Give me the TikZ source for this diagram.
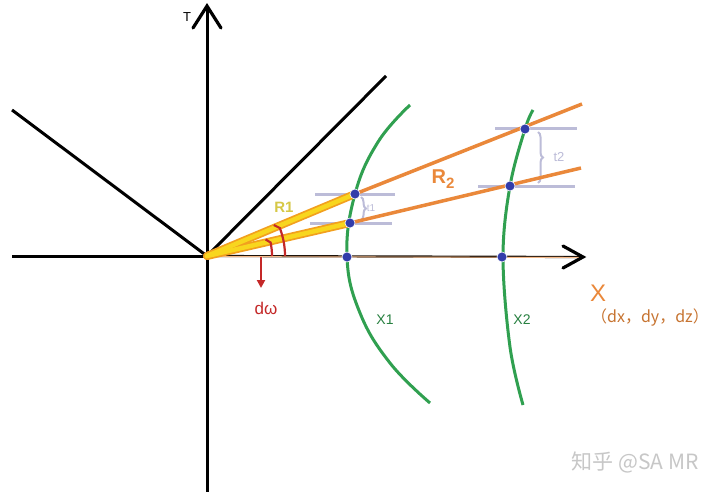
\documentclass[tikz,border=0pt]{standalone}
\usepackage{fontspec}
\setmainfont{Liberation Sans}
\newfontfamily\cjk{Noto Sans CJK SC}
\usetikzlibrary{decorations.pathreplacing,arrows.meta,calc}
\definecolor{gr}{RGB}{48,160,80}
\definecolor{orng}{RGB}{234,136,58}
\definecolor{yel}{RGB}{248,214,30}
\definecolor{yelo}{RGB}{242,160,30}
\definecolor{lav}{RGB}{188,188,216}
\definecolor{dotb}{RGB}{50,60,170}
\definecolor{redd}{RGB}{196,40,40}
\definecolor{r1c}{RGB}{214,200,70}
\tikzset{
  axis/.style={line width=3pt,black},
  chev/.style={line width=3.2pt,black,line cap=round,line join=miter},
  arcg/.style={line width=3pt,gr},
  orl/.style={line width=3.5pt,orng},
  yelout/.style={line width=8pt,yelo},
  yelin/.style={line width=4.5pt,yel},
  tick/.style={line width=3pt,lav},
  dotn/.style={circle,fill=dotb,draw=white,line width=0.6pt,inner sep=0pt,minimum size=10pt},
  lbl/.style={inner sep=0pt},
  brc/.style={decorate,decoration={brace,amplitude=5pt},line width=2pt,lav},
}
\begin{document}
\begin{tikzpicture}[x=1pt,y=-1pt]
\useasboundingbox[fill=white] (0,0) rectangle (720,492);
% key points
\coordinate (O) at (207,256);
\coordinate (Tbot) at (207,492);
\coordinate (Ttop) at (207,6);
\coordinate (Xl) at (12,256);
\coordinate (Xr) at (583,257);
\coordinate (UL) at (12,110);
\coordinate (UR) at (386,76);
\coordinate (Ou1) at (582,104);
\coordinate (Ou2) at (581,168);
% axes
\draw[axis] (Tbot) -- (Ttop);
\draw[chev] ($(Ttop)+(-14,22)$) -- (Ttop) -- ($(Ttop)+(14,22)$);
\draw[axis] (Xl) -- (O);
\draw[line width=2.2pt,black!85!brown] (O) -- (Xr);
\draw[line width=0.9pt,orng!60] ($(O)+(0,0.5)$) -- ($(Xr)+(0,0.5)$);
\draw[chev] ($(Xr)+(-20,-11)$) -- (Xr) -- ($(Xr)+(-20,11)$);
\draw[axis] (UL) -- (O) -- (UR);
% green arcs
\draw[arcg] plot[smooth,tension=0.7] coordinates {(410,105) (378,142) (355,194) (347,257) (360,313) (390,363) (430,403)};
\draw[arcg] plot[smooth,tension=0.6] coordinates {(533,110) (525,129) (510,186) (503,257) (510,347) (523,405)};
% dots coords
\coordinate (A1) at (355,194);
\coordinate (B1) at (350,223);
\coordinate (C1) at (347,257);
\coordinate (A2) at (525,129);
\coordinate (B2) at (510,186);
\coordinate (C2) at (502,257);
% lavender ticks
\draw[tick] (315,194) -- (395,194);
\draw[tick] (310,223) -- (392,223);
\draw[tick] (495,129) -- (577,129);
\draw[tick] (478,186) -- (575,186);
\draw[brc] (361,197) -- (361,220);
\draw[brc] (538,132) -- (538,183);
\node[lbl,text=lav,font=\fontsize{10}{10}\selectfont] (t1) at (371,208) {t1};
\node[lbl,text=lav,font=\fontsize{13}{13}\selectfont] (t2) at (559,157) {t2};
% orange rays
\draw[orl] (A1) -- (Ou1);
\draw[orl] (B1) -- (Ou2);
% yellow rays
\draw[yelout,line cap=round] (O) -- (A1);
\draw[yelout,line cap=round] (O) -- (B1);
\draw[yelin,line cap=round] (O) -- (A1);
\draw[yelin,line cap=round] (O) -- (B1);
% dots
\foreach \p in {A1,B1,C1,A2,B2,C2} \node[dotn] (d\p) at (\p) {};
% red angle arcs
\draw[redd,line width=2.2pt] ($(O)+(65,0)$) arc[start angle=0,end angle=-12,radius=65] -- ++(-5,-3);
\draw[redd,line width=2.2pt] ($(O)+(78,0)$) arc[start angle=0,end angle=-21,radius=78] -- ++(-6,-3);
\coordinate (Ra) at (261,257);
\coordinate (Rb) at (261,288);
\draw[redd,line width=2.2pt,-{Triangle[length=8pt,width=8pt]}] (Ra) -- (Rb);
% labels
\node[lbl,text=redd,font=\fontsize{17}{17}\selectfont] (dw) at (266,308) {dω};
\node[lbl,text=r1c,font=\bfseries\fontsize{15}{15}\selectfont] (R1) at (284,207) {R1};
\node[lbl,text=orng,font=\bfseries\fontsize{20}{20}\selectfont] (R2) at (443,179) {R\raisebox{-5pt}{\fontsize{15}{15}\selectfont 2}};
\node[lbl,font=\fontsize{13}{13}\selectfont] (T) at (187,17) {T};
\node[lbl,text=orng,font=\fontsize{24}{24}\selectfont] (X) at (598,293) {X};
\node[lbl,text=orng!85!black,font=\cjk\fontsize{16}{16}\selectfont] (dxyz) at (650,318) {（dx，dy，dz）};
\node[lbl,text=gr!80!black,font=\fontsize{14}{14}\selectfont] (X1) at (385,320) {X1};
\node[lbl,text=gr!80!black,font=\fontsize{14}{14}\selectfont] (X2) at (522,320) {X2};
\node[lbl,text=black!22,font=\cjk\fontsize{21}{21}\selectfont] (wm) at (635,462) {知乎 @SA MR};
\end{tikzpicture}
\end{document}
